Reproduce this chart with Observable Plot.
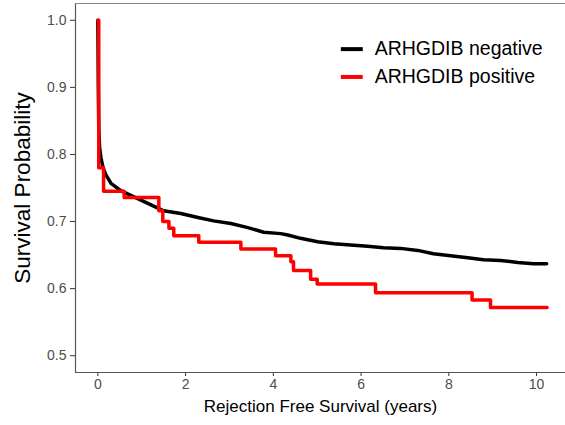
<!DOCTYPE html>
<html>
<head>
<meta charset="utf-8">
<script src="https://cdn.jsdelivr.net/npm/d3@7"></script>
<script src="https://cdn.jsdelivr.net/npm/@observablehq/plot@0.6"></script>
<style>
  body { margin: 0; background: #fff; }
  #chart svg { font-family: "Liberation Sans", Arial, sans-serif; }
</style>
</head>
<body>
<div id="chart"></div>
<script>
// ARHGDIB negative (black)
const negTime = [0, 0.01, 0.02, 0.04, 0.07, 0.12, 0.18, 0.3, 0.52, 0.75, 1.14, 1.5, 1.89, 2.28, 2.64, 3.03, 3.42, 3.78, 4.17, 4.33, 4.62, 5.01, 5.38, 5.76, 6.15, 6.51, 6.9, 7.29, 7.65, 8.04, 8.43, 8.79, 9.18, 9.57, 9.93, 10.23];
const negSurv = [1.0, 0.90, 0.84, 0.81, 0.795, 0.78, 0.77, 0.757, 0.746, 0.739, 0.727, 0.716, 0.712, 0.706, 0.701, 0.697, 0.691, 0.684, 0.682, 0.680, 0.675, 0.670, 0.667, 0.665, 0.663, 0.661, 0.660, 0.657, 0.652, 0.649, 0.646, 0.643, 0.642, 0.639, 0.637, 0.637];
// ARHGDIB positive (red) — step function
const posTime = [0, 0.02, 0.13, 0.6, 1.39, 1.48, 1.62, 1.73, 2.3, 3.26, 4.05, 4.4, 4.46, 4.85, 5.0, 6.33, 8.53, 8.95, 10.24];
const posSurv = [1.0, 0.78, 0.745, 0.736, 0.716, 0.70, 0.69, 0.679, 0.669, 0.659, 0.649, 0.64, 0.627, 0.614, 0.607, 0.594, 0.583, 0.572, 0.572];

const groups = ["ARHGDIB negative", "ARHGDIB positive"];
const colors = ["#000000", "#ff0000"];
const yTicks = [0.5, 0.6, 0.7, 0.8, 0.9, 1.0];
const xTicks = [0, 2, 4, 6, 8, 10];

const neg = negTime.map((t, i) => ({t, s: negSurv[i]}));
const pos = posTime.map((t, i) => ({t, s: posSurv[i]}));
const legend = groups.map((g, i) => ({g, c: colors[i], row: i}));

const xMin = -0.51, xMax = 10.66, yMin = 0.475, yMax = 1.025;

const chart = Plot.plot({
  width: 565,
  height: 425,
  marginLeft: 75,
  marginRight: 0,
  marginTop: 3,
  marginBottom: 53,
  style: {fontFamily: "Liberation Sans, Arial, sans-serif", background: "#fff"},
  x: {domain: [xMin, xMax]},
  y: {domain: [yMin, yMax]},
  marks: [
    Plot.axisY(yTicks, {tickFormat: d3.format(".1f"), tickSize: 5, tickPadding: 4, fontSize: 14, color: "#4d4d4d", stroke: "#333",
      label: null}),
    Plot.axisX(xTicks, {tickFormat: d => String(d), tickSize: 4, tickPadding: 3, fontSize: 14, color: "#4d4d4d", stroke: "#333",
      label: null}),
    Plot.ruleX([xMin], {stroke: "#555", strokeWidth: 1.2}),
    Plot.ruleY([yMin], {stroke: "#555", strokeWidth: 1.2}),
    Plot.ruleY([yMax], {stroke: "#888", strokeWidth: 1.2}),
    Plot.line(neg, {x: "t", y: "s", stroke: colors[0], strokeWidth: 3.5, curve: "linear"}),
    Plot.line(pos, {x: "t", y: "s", stroke: colors[1], strokeWidth: 3.5, curve: "step-after"}),
    // legend
    Plot.ruleY(legend, {y: d => 0.957 - d.row * 0.0415, x1: 5.55, x2: 6.05, stroke: "c", strokeWidth: 4}),
    Plot.text(legend, {y: d => 0.957 - d.row * 0.0415, x: 6.31, text: "g", fill: "#000", fontSize: 19.5, textAnchor: "start"}),
    // axis titles
    Plot.text(["Survival Probability"], {frameAnchor: "left", dx: -53, rotate: -90, fontSize: 22.5, fill: "#000", textAnchor: "middle"}),
    Plot.text(["Rejection Free Survival (years)"], {frameAnchor: "bottom", dy: 39, fontSize: 17, fill: "#000", textAnchor: "middle"})
  ]
});
document.getElementById("chart").appendChild(chart);
</script>
</body>
</html>
